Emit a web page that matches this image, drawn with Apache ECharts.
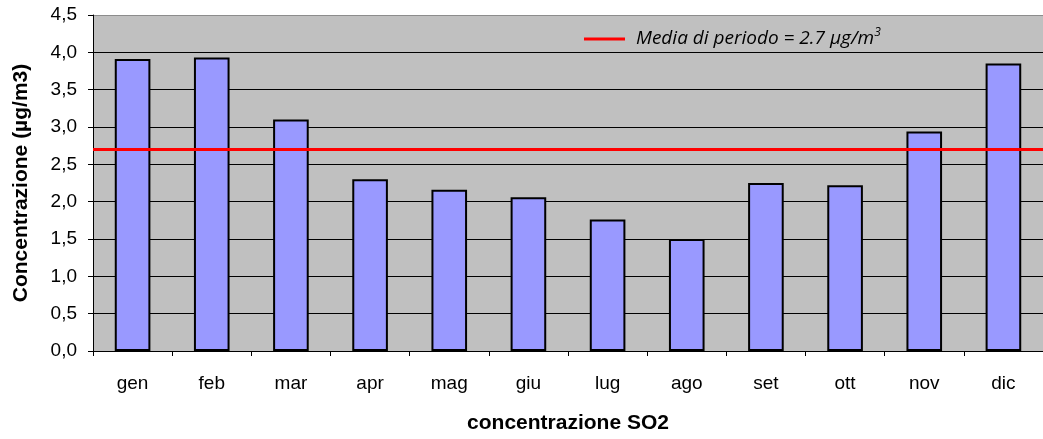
<!DOCTYPE html>
<html>
<head>
<meta charset="utf-8">
<script src="https://cdn.jsdelivr.net/npm/echarts@6/dist/echarts.min.js"></script>
<style>html,body{margin:0;padding:0;background:#fff}#c{width:1043px;height:439px}</style>
</head>
<body>
<div id="c"></div>
<script>
const months = ['gen','feb','mar','apr','mag','giu','lug','ago','set','ott','nov','dic'];
const so2Values = [3.91, 3.93, 3.10, 2.30, 2.16, 2.06, 1.76, 1.50, 2.25, 2.22, 2.94, 3.85];
const periodMean = 2.7;
const yTicks = {min: 0, max: 4.5, interval: 0.5};

const chart = echarts.init(document.getElementById('c'));
chart.setOption({
  backgroundColor: '#fff',
  animation: false,
  grid: {left: 93, right: 0, top: 15, bottom: 88, show: true, backgroundColor: '#C0C0C0', borderWidth: 0},
  legend: {
    left: 579, top: 22,
    itemWidth: 41, itemHeight: 3, icon: 'rect', itemGap: 10,
    data: [{name: 'media', itemStyle: {color: '#FF0000'}}],
    formatter: function(){ return '{t|Media di periodo = ' + periodMean + ' \u03BCg/m}{s|3}'; },
    textStyle: {
      rich: {
        t: {fontFamily: 'Open Sans', fontStyle: 'italic', fontSize: 19, color: '#000', padding: [0,0,0,6]},
        s: {fontFamily: 'Open Sans', fontStyle: 'italic', fontSize: 12, color: '#000', verticalAlign: 'top', padding: [0,0,12,0]}
      }
    }
  },
  xAxis: {
    type: 'category', data: months,
    name: 'concentrazione SO2', nameLocation: 'middle', nameGap: 62,
    nameTextStyle: {fontFamily: 'Liberation Sans', fontWeight: 'bold', fontSize: 21, color: '#000'},
    axisLine: {lineStyle: {color: '#000', width: 1}},
    axisTick: {show: true, length: 5, lineStyle: {color: '#000'}},
    axisLabel: {fontFamily: 'Liberation Sans', fontSize: 19, color: '#000', margin: 23},
    splitLine: {show: false}
  },
  yAxis: {
    type: 'value', min: yTicks.min, max: yTicks.max, interval: yTicks.interval,
    name: 'Concentrazione (\u00B5g/m3)', nameLocation: 'middle', nameGap: 61,
    nameTextStyle: {fontFamily: 'Liberation Sans', fontWeight: 'bold', fontSize: 21, color: '#000'},
    axisLine: {show: true, lineStyle: {color: '#000', width: 1}},
    axisTick: {show: true, length: 5, lineStyle: {color: '#000'}},
    axisLabel: {fontFamily: 'Liberation Sans', fontSize: 19, color: '#000', margin: 16,
      formatter: v => v.toFixed(1).replace('.', ',')},
    splitLine: {show: true, lineStyle: {color: ['#000','#000','#000','#000','#000','#000','#000','#000','#000','#8c8c8c'], width: 1}}
  },
  series: [
    {
      type: 'bar', name: 'SO2', data: so2Values, barWidth: '45%',
      itemStyle: {color: '#9999FF', borderColor: '#000', borderWidth: 2}
    },
    {
      type: 'line', name: 'media', data: [], symbol: 'none',
      lineStyle: {color: '#FF0000', width: 3}, itemStyle: {color: '#FF0000'},
      markLine: {
        silent: true, symbol: ['none','none'], label: {show: false},
        lineStyle: {color: '#FF0000', width: 3, type: 'solid'},
        data: [{yAxis: periodMean}]
      }
    }
  ]
});
</script>
</body>
</html>
